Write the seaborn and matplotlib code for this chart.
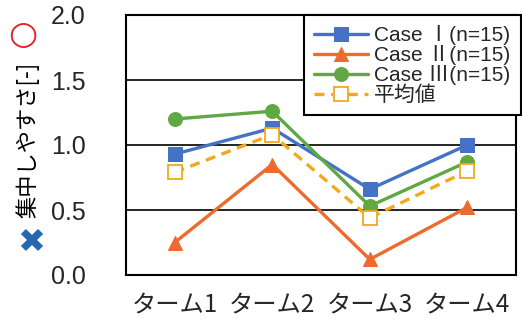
import matplotlib
matplotlib.use("Agg")
import matplotlib.pyplot as plt
import seaborn as sns
import pandas as pd

# Data
terms = ["ターム1", "ターム2", "ターム3", "ターム4"]
case1 = [0.93, 1.13, 0.66, 1.00]
case2 = [0.25, 0.85, 0.12, 0.52]
case3 = [1.20, 1.26, 0.53, 0.87]
average = [0.79, 1.08, 0.44, 0.80]
series_labels = ["Case Ⅰ(n=15)", "Case Ⅱ(n=15)", "Case Ⅲ(n=15)", "平均値"]
y_ticks = [0.0, 0.5, 1.0, 1.5, 2.0]

sns.set_theme(style="white")
plt.rcParams["font.family"] = ["Noto Sans CJK JP", "DejaVu Sans"]

fig = plt.figure(figsize=(5.22, 3.24), dpi=100)
ax = fig.add_axes([126 / 522, 1 - 275 / 324, 390 / 522, 260 / 324])

styles = [
    dict(color="#4472C4", marker="s", markersize=10, linestyle="-",
         markerfacecolor="#4472C4", markeredgecolor="#4472C4"),
    dict(color="#ED6B2E", marker="^", markersize=10, linestyle="-",
         markerfacecolor="#ED6B2E", markeredgecolor="#ED6B2E"),
    dict(color="#5FA843", marker="o", markersize=10, linestyle="-",
         markerfacecolor="#5FA843", markeredgecolor="#5FA843"),
    dict(color="#F5A81C", marker="s", markersize=10, linestyle=(0, (3, 2)),
         markerfacecolor="white", markeredgecolor="#F5A81C", markeredgewidth=1.3),
]

for vals, lab, st in zip([case1, case2, case3, average], series_labels, styles):
    df = pd.DataFrame({"term": terms, "value": vals})
    sns.lineplot(data=df, x="term", y="value", ax=ax, label=lab, sort=False,
                 linewidth=2.4, **st)

ax.set_xlim(-0.5, 3.5)
ax.set_ylim(0, 2.0)
ax.set_yticks(y_ticks)
ax.set_yticklabels([f"{v:.1f}" for v in y_ticks],
                   family=["Liberation Sans", "DejaVu Sans"], fontsize=18)
ax.tick_params(axis="x", labelsize=17.5, pad=12)
ax.tick_params(axis="y", pad=29, length=0)
ax.tick_params(axis="x", length=0)
ax.set_xlabel("")
ax.set_ylabel("")

ax.grid(axis="y", color="black", linewidth=1.2)
ax.grid(axis="x", visible=False)
for sp in ax.spines.values():
    sp.set_color("black")
    sp.set_linewidth(1.5)

leg = ax.legend(loc="upper right", bbox_to_anchor=(521 / 522, 1 - 15 / 324),
                bbox_transform=fig.transFigure,
                prop={"family": ["Liberation Sans", "Noto Sans CJK JP"], "size": 15},
                frameon=True, fancybox=False, edgecolor="black", framealpha=1,
                borderpad=0.5, labelspacing=0.0, handlelength=2.6,
                handletextpad=0.3, borderaxespad=0)
leg.get_frame().set_linewidth(1.5)

# Axis label with the good/bad markers
fig.text(28 / 522, 1 - 140 / 324, "集中しやすさ[-]", rotation=90,
         ha="center", va="center", fontsize=16, color="black")
fig.text(23 / 522, 1 - 35 / 324, "○", ha="center", va="center",
         fontsize=24, color="#E8202A", fontweight="bold",
         family=["DejaVu Sans"])
fig.text(31 / 522, 1 - 243 / 324, "✖", ha="center", va="center",
         fontsize=24, color="#2468B4", family=["DejaVu Sans"])

fig.savefig("out.png", dpi=100)
